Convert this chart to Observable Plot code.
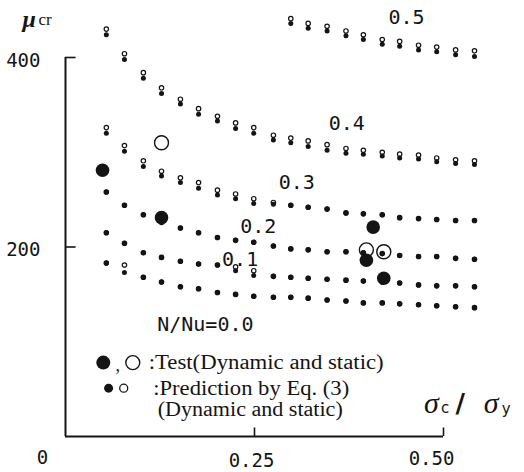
<!DOCTYPE html>
<html><head><meta charset="utf-8">
<script src="https://cdn.jsdelivr.net/npm/d3@7"></script>
<script src="https://cdn.jsdelivr.net/npm/@observablehq/plot@0.6"></script>
<style>
html,body{margin:0;padding:0;background:#fff;overflow:hidden}
svg{display:block}
</style>
</head><body><div id="chart"></div>
<script>
// sigma_c / sigma_y values of the prediction columns
const stressRatio = [0.054,0.078,0.103,0.127,0.152,0.176,0.201,0.225,0.249,0.275,0.298,0.321,0.346,0.371,0.394,0.419,0.442,0.467,0.491,0.516,0.541];
// predictions by Eq.(3): dynamic (filled) and static (open), mu_cr
const dyn00 = [183,173,168,163,158,156,152,150,148,147,147,146,144,143,141,141,140,139,138,137,136];
const sta00 = [183,181,168,163,158,156,152,150,148,147,147,146,144,143,141,141,140,139,138,137,136];
const dyn01 = [215,204,194,189,185,182,181,175,170,169,168,167,166,165,164,163,162,160,159,159,158];
const sta01 = [215,204,194,189,185,182,181,179,175,169,168,167,166,165,164,163,162,160,159,159,158];
const dyn02 = [258,244,234,226,220,215,210,207,205,201,198,197,195,195,194,193,191,190,190,188,187];
const sta02 = [258,244,234,226,220,215,210,207,205,201,198,197,195,195,194,193,191,190,190,188,187];
const dyn03 = [320,301,285,275,268,262,255,251,246,245,244,242,240,236,235,234,231,230,229,228,228];
const sta03 = [326,307,291,280,273,268,260,256,251,247,244,242,240,236,235,234,231,230,229,228,228];
const dyn04 = [424,398,378,362,351,340,333,325,320,313,310,306,302,299,298,296,294,293,290,288,287];
const sta04 = [430,404,384,368,356,346,338,331,326,318,315,312,308,304,302,300,298,297,294,292,291];
const dyn05 = [436,431,428,423,419,414,412,408,406,403,401];   // from stressRatio[10]
const sta05 = [441,436,433,428,424,419,417,413,411,408,407];

// test results
const testDynX = [0.049,0.127,0.407,0.398,0.421];
const testDynY = [281,231,221,186,167];
const testStaX = [0.127,0.398,0.421];
const testStaY = [310,197,195];

// tick labels
const yTicks = [200,400];
const xTicks = [0.25,0.5];
const xTickLabels = ["0.25","0.50"];

// curve labels
const curveNames = ["0.5","0.4","0.3","0.2","0.1","N/Nu=0.0"];
const curveLabelX = [0.451,0.372,0.306,0.255,0.231,0.185];
const curveLabelY = [442,330,268,222,187,118];

// legend texts
const legendTexts = [":Test(Dynamic and static)",":Prediction by Eq. (3)","(Dynamic and static)"];

const series = [
  [stressRatio, dyn00, sta00], [stressRatio, dyn01, sta01], [stressRatio, dyn02, sta02],
  [stressRatio, dyn03, sta03], [stressRatio, dyn04, sta04], [stressRatio.slice(10), dyn05, sta05]
];
const pred = series.flatMap(([xs, d, s]) => xs.map((x, i) => ({x, dyn: d[i], sta: s[i]})));
const testDyn = testDynX.map((x, i) => ({x, y: testDynY[i]}));
const testSta = testStaX.map((x, i) => ({x, y: testStaY[i]}));
const curveLabels = curveNames.map((t, i) => ({t, x: curveLabelX[i], y: curveLabelY[i]}));
const xTickRows = xTicks.map((v, i) => ({v, t: xTickLabels[i]}));

const ink = "#141414";
const mono = "DejaVu Sans Mono";
const serif = "Liberation Serif";

const chart = Plot.plot({
  width: 524, height: 472,
  marginTop: 57, marginBottom: 36, marginLeft: 65, marginRight: 81,
  x: {domain: [0, 0.5], axis: null},
  y: {domain: [0, 400], axis: null},
  style: {background: "#fff", overflow: "visible"},
  marks: [
    // axes frame
    Plot.ruleX([0], {y1: 0, y2: 400, stroke: ink, strokeWidth: 2}),
    Plot.ruleY([0], {x1: 0, x2: 0.5, stroke: ink, strokeWidth: 2}),
    Plot.ruleY(yTicks, {x1: 0, x2: 0.014, stroke: ink, strokeWidth: 1.6}),
    Plot.ruleX(xTicks, {y1: 0, y2: 9, stroke: ink, strokeWidth: 1.6}),
    // tick labels
    Plot.text(yTicks, {x: 0, y: d => d, text: d => String(d), textAnchor: "end", dx: -25, dy: 3, fontFamily: mono, fontSize: 19, fill: ink}),
    Plot.text(xTickRows.slice(0, 1), {x: "v", y: 0, text: "t", dx: -3, dy: 24, fontFamily: mono, fontSize: 19, fill: ink}),
    Plot.text(xTickRows.slice(1), {x: "v", y: 0, text: "t", dx: -12, dy: 22, fontFamily: mono, fontSize: 19, fill: ink}),
    Plot.text([0], {x: 0, y: 0, text: d => String(d), dx: -23, dy: 21, fontFamily: mono, fontSize: 19, fill: ink}),
    // predictions
    Plot.dot(pred, {x: "x", y: "sta", r: 2.2, fill: "white", stroke: ink, strokeWidth: 1.2}),
    Plot.dot(pred, {x: "x", y: "dyn", r: 2.5, fill: ink}),
    // tests
    Plot.dot(testSta, {x: "x", y: "y", r: 7, fill: "none", stroke: ink, strokeWidth: 1.4}),
    Plot.dot(testDyn, {x: "x", y: "y", r: 6.8, fill: ink}),
    // curve labels
    Plot.text(curveLabels, {x: "x", y: "y", text: "t", fontFamily: mono, fontSize: 20, fill: ink}),
    // axis titles
    Plot.text(["μ"], {x: -0.048, y: 440, text: d => d, fontFamily: serif, fontStyle: "italic", fontWeight: "bold", fontSize: 24, fill: ink}),
    Plot.text(["cr"], {x: -0.027, y: 440, text: d => d, fontFamily: serif, fontSize: 17, fill: ink}),
    Plot.text(["σ"], {x: 0.484, y: 35, text: d => d, fontFamily: serif, fontStyle: "italic", fontSize: 30, fill: ink}),
    Plot.text(["c"], {x: 0.502, y: 30, text: d => d, fontFamily: "DejaVu Sans", fontSize: 15, fill: ink}),
    Plot.text(["∕"], {x: 0.522, y: 35, text: d => d, fontFamily: "DejaVu Sans", fontWeight: "bold", fontSize: 26, fill: ink}),
    Plot.text(["σ"], {x: 0.563, y: 35, text: d => d, fontFamily: serif, fontStyle: "italic", fontSize: 30, fill: ink}),
    Plot.text(["y"], {x: 0.583, y: 29, text: d => d, fontFamily: "DejaVu Sans", fontSize: 15, fill: ink}),
    // legend
    Plot.dot([0], {x: 0.050, y: 78, r: 7, fill: ink}),
    Plot.text([","], {x: 0.069, y: 75, text: d => d, fontFamily: serif, fontSize: 18, fill: ink}),
    Plot.dot([0], {x: 0.089, y: 78, r: 7, fill: "none", stroke: ink, strokeWidth: 1.4}),
    Plot.dot([0], {x: 0.057, y: 51, r: 4.5, fill: ink}),
    Plot.dot([0], {x: 0.077, y: 51, r: 4, fill: "none", stroke: ink, strokeWidth: 1.3}),
    Plot.text([legendTexts[0]], {x: 0.110, y: 78, text: d => d, textAnchor: "start", fontFamily: serif, fontSize: 20, fill: ink}),
    Plot.text([legendTexts[1]], {x: 0.116, y: 51, text: d => d, textAnchor: "start", fontFamily: serif, fontSize: 20, fill: ink}),
    Plot.text([legendTexts[2]], {x: 0.122, y: 28, text: d => d, textAnchor: "start", fontFamily: serif, fontSize: 20, fill: ink})
  ]
});
// stretch legend lines to the widths seen in the reference
const legendWidths = [235, 196, 185];
d3.select(chart).selectAll("text").each(function () {
  const i = legendTexts.indexOf(this.textContent);
  if (i >= 0) {
    this.setAttribute("textLength", legendWidths[i]);
    this.setAttribute("lengthAdjust", "spacingAndGlyphs");
  }
});
document.getElementById("chart").appendChild(chart);
</script>
</body></html>
